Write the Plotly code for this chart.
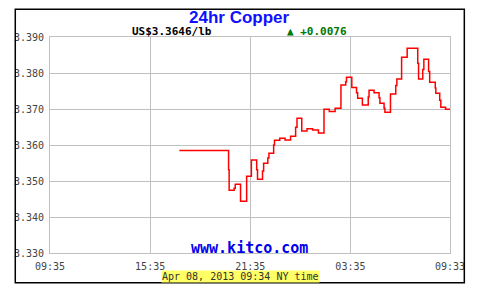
import plotly.graph_objects as go

# ---- data ----
times = [
    "2013-04-07 17:20", "2013-04-07 20:17", "2013-04-07 20:19", "2013-04-07 20:37",
    "2013-04-07 20:41", "2013-04-07 21:00", "2013-04-07 21:22", "2013-04-07 21:39",
    "2013-04-07 21:58", "2013-04-07 22:01", "2013-04-07 22:19", "2013-04-07 22:23",
    "2013-04-07 22:38", "2013-04-07 22:42", "2013-04-07 22:59", "2013-04-07 23:02",
    "2013-04-07 23:21", "2013-04-07 23:40", "2013-04-08 00:00", "2013-04-08 00:18",
    "2013-04-08 00:23", "2013-04-08 00:40", "2013-04-08 00:59", "2013-04-08 01:19",
    "2013-04-08 01:40", "2013-04-08 02:00", "2013-04-08 02:19", "2013-04-08 02:40",
    "2013-04-08 03:01", "2013-04-08 03:18", "2013-04-08 03:21", "2013-04-08 03:40",
    "2013-04-08 03:57", "2013-04-08 04:01", "2013-04-08 04:18", "2013-04-08 04:39",
    "2013-04-08 04:42", "2013-04-08 05:00", "2013-04-08 05:18", "2013-04-08 05:21",
    "2013-04-08 05:36", "2013-04-08 05:39", "2013-04-08 05:59", "2013-04-08 06:18",
    "2013-04-08 06:22", "2013-04-08 06:39", "2013-04-08 06:59", "2013-04-08 07:37",
    "2013-04-08 07:40", "2013-04-08 07:55", "2013-04-08 07:59", "2013-04-08 08:16",
    "2013-04-08 08:20", "2013-04-08 08:40", "2013-04-08 08:42", "2013-04-08 08:56",
    "2013-04-08 09:00", "2013-04-08 09:17", "2013-04-08 09:33",
]
prices = [
    3.3585, 3.3531, 3.3474, 3.3480,
    3.3491, 3.3444, 3.3513, 3.3558,
    3.3531, 3.3505, 3.3528, 3.3549,
    3.3564, 3.3577, 3.3600, 3.3613,
    3.3619, 3.3614, 3.3624, 3.3649,
    3.3674, 3.3639, 3.3645, 3.3642,
    3.3633, 3.3699, 3.3693, 3.3702,
    3.3767, 3.3776, 3.3788, 3.3760,
    3.3745, 3.3730, 3.3711, 3.3733,
    3.3752, 3.3745, 3.3731, 3.3716,
    3.3702, 3.3691, 3.3742, 3.3765,
    3.3783, 3.3844, 3.3869, 3.3827,
    3.3783, 3.3810, 3.3838, 3.3804,
    3.3774, 3.3758, 3.3744, 3.3724,
    3.3705, 3.3699, 3.3699,
]
x_tick_vals = ["2013-04-07 09:35", "2013-04-07 15:35", "2013-04-07 21:35",
               "2013-04-08 03:35", "2013-04-08 09:33"]
x_tick_text = ["09:35", "15:35", "21:35", "03:35", "09:33"]
y_tick_vals = [3.330, 3.340, 3.350, 3.360, 3.370, 3.380, 3.390]

title_text = "24hr Copper"
price_text = "US$3.3646/lb"
change_text = "▲ +0.0076"
site_text = "www.kitco.com"
stamp_text = "Apr 08, 2013 09:34 NY time"

MONO = "DejaVu Sans Mono"
GRID = "#c0c0c0"

fig = go.Figure()
fig.add_trace(go.Scatter(
    x=times, y=prices, mode="lines", line_shape="hv",
    line=dict(color="#ff0000", width=1.5), hoverinfo="skip", showlegend=False,
))

fig.update_layout(
    width=490, height=293,
    margin=dict(l=50, r=40, t=37, b=40, pad=0),
    paper_bgcolor="white", plot_bgcolor="white",
    showlegend=False,
    xaxis=dict(
        range=[x_tick_vals[0], x_tick_vals[-1]],
        tickmode="array", tickvals=x_tick_vals, ticktext=x_tick_text,
        showgrid=True, gridcolor=GRID, gridwidth=1,
        showline=True, linecolor=GRID, linewidth=1, mirror=True,
        ticks="outside", ticklen=4, tickcolor="rgba(0,0,0,0)",
        tickfont=dict(family=MONO, size=10, color="#444"),
        zeroline=False,
    ),
    yaxis=dict(
        range=[3.33, 3.39],
        tickmode="array", tickvals=y_tick_vals,
        ticktext=[f"{v:.3f}" for v in y_tick_vals],
        showgrid=True, gridcolor=GRID, gridwidth=1,
        showline=True, linecolor=GRID, linewidth=1, mirror=True,
        ticks="outside", ticklen=3, tickcolor="rgba(0,0,0,0)",
        tickfont=dict(family=MONO, size=10, color="#444"),
        zeroline=False,
    ),
    annotations=[
        dict(text=f"<b>{title_text}</b>", xref="paper", yref="paper",
             x=0.4725, y=1.088, xanchor="center", yanchor="middle", showarrow=False,
             borderpad=0,
             font=dict(family="Liberation Sans", size=17, color="#1010ff")),
        dict(text=f"<b>{price_text}</b>", xref="paper", yref="paper",
             x=0.306, y=1.024, xanchor="center", yanchor="middle", showarrow=False,
             borderpad=0,
             font=dict(family=MONO, size=11, color="#000000")),
        dict(text=f"<b>{change_text}</b>", xref="paper", yref="paper",
             x=0.6675, y=1.024, xanchor="center", yanchor="middle", showarrow=False,
             borderpad=0,
             font=dict(family=MONO, size=11, color="#007700")),
        dict(text=f"<b>{site_text}</b>", xref="paper", yref="paper",
             x=0.4975, y=0.025, xanchor="center", yanchor="middle", showarrow=False,
             font=dict(family=MONO, size=15, color="#0000ee")),
        dict(text=stamp_text, xref="paper", yref="paper",
             x=0.475, y=-0.111, xanchor="center", yanchor="middle", showarrow=False,
             bgcolor="#ffff66", borderpad=0,
             font=dict(family=MONO, size=10, color="#333")),
    ],
    shapes=[
        dict(type="rect", xref="paper", yref="paper",
             x0=-0.0868, x1=1.0358, y0=-0.1375, y1=1.128,
             line=dict(color="black", width=1.5), fillcolor="rgba(0,0,0,0)", layer="above"),
    ],
)

fig.write_html("out.html")
